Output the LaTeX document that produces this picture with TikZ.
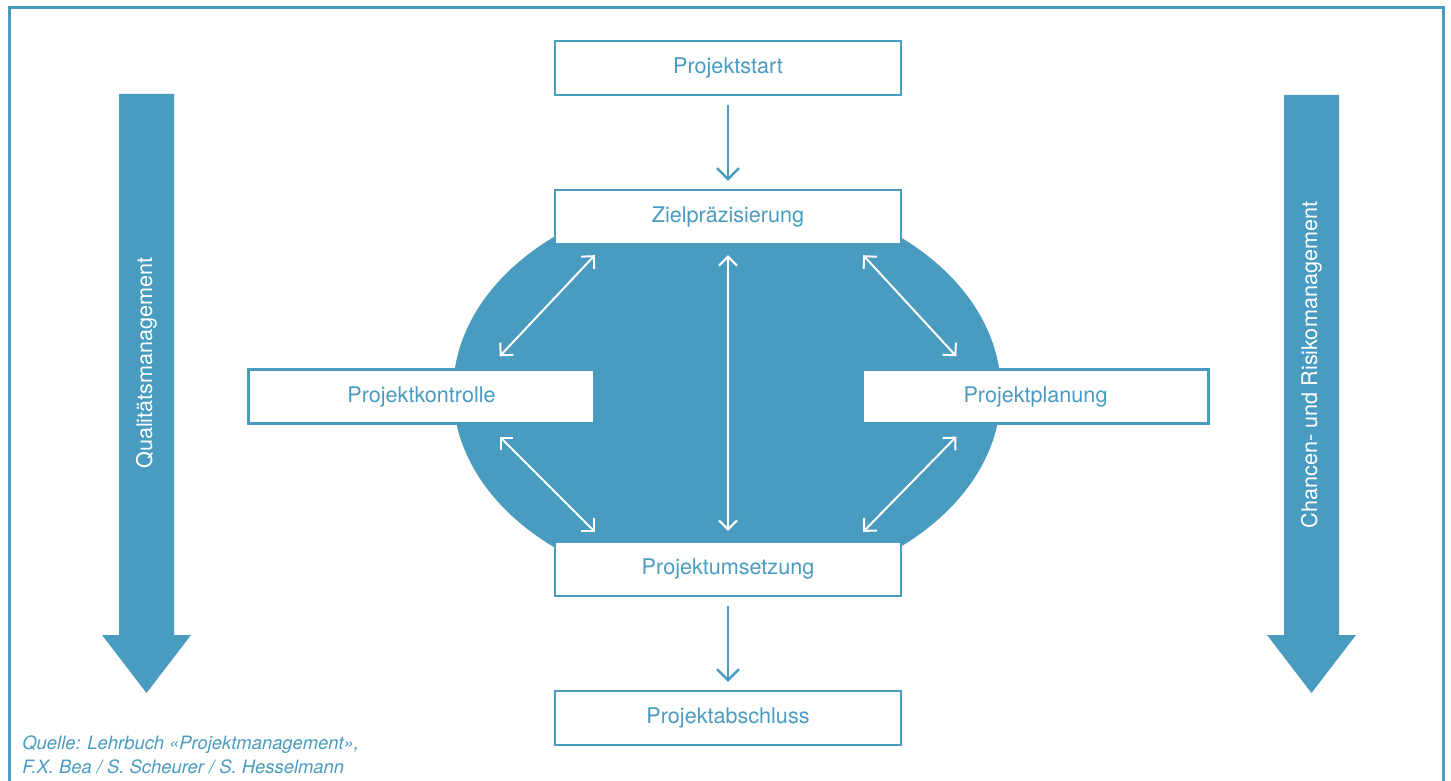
\documentclass[tikz,border=0pt]{standalone}
\usepackage{fontspec}
\setmainfont{TeX Gyre Heros}
\usepackage{tikz}
\usetikzlibrary{arrows.meta,positioning,shapes}
\definecolor{pmblue}{RGB}{74,155,192}
\tikzset{
     phase/.style = {draw=pmblue, line width=1.2pt, fill=white, text=pmblue,
                     minimum width=173pt, minimum height=27pt, inner sep=0pt,
                     font=\fontsize{10.8}{13}\selectfont},
      flow/.style = {pmblue, line width=1.2pt, -{Straight Barb[length=5.5pt,width=11pt]}},
      link/.style = {white, line width=1pt,
                     {Straight Barb[length=4.5pt,width=9pt]}-{Straight Barb[length=4.5pt,width=9pt]}},
      bigarrow/.style = {fill=pmblue},
      sidelabel/.style = {rotate=90, text=white, font=\fontsize{10.8}{13}\selectfont},
    }

\begin{document}
\begin{tikzpicture}[x=0.5pt, y=-0.5pt, node distance=74.5pt, on grid]
            \useasboundingbox (0,0) rectangle (1451,781);
            \draw[pmblue, line width=1.5pt] (9,781) -- (9,8) -- (1443,8) -- (1443,781);

            \node [ellipse, fill=pmblue, minimum width=274pt, minimum height=200pt, inner sep=0pt] (core) at (727,392) {};

            \node [phase] (start)     at (728,68)       {Projektstart};
            \node [phase] (ziel)      [below=of start]  {Zielpräzisierung};
            \node [phase] (umsetz)    [below=176pt of ziel] {Projektumsetzung};
            \node [phase] (abschluss) [below=of umsetz] {Projektabschluss};
            \node [phase] (kontrolle) at (421.5,396.5)  {Projektkontrolle};
            \node [phase] (planung)   at (1035.5,396.5) {Projektplanung};

            \draw [flow, shorten <=4.5pt, shorten >=4pt] (start) -- (ziel);
            \draw [flow, shorten <=4.5pt, shorten >=4pt] (umsetz) -- (abschluss);

            \draw [link] ([xshift=20.5pt,yshift=-5pt]ziel.south west) -- ([xshift=-48pt,yshift=6pt]kontrolle.north east);
            \draw [link] ([yshift=-5pt]ziel.south) -- ([yshift=5pt]umsetz.north);
            \draw [link] ([xshift=-19.5pt,yshift=-5pt]ziel.south east) -- ([xshift=47.5pt,yshift=6pt]planung.north west);
            \draw [link] ([xshift=-48pt,yshift=-6pt]kontrolle.south east) -- ([xshift=20.5pt,yshift=4.5pt]umsetz.north west);
            \draw [link] ([xshift=47.5pt,yshift=-6pt]planung.south west) -- ([xshift=-19.5pt,yshift=4.5pt]umsetz.north east);

            \fill [bigarrow] (119,94) -- (174,94) -- (174,635) -- (191,635) -- (146.5,693) -- (102,635) -- (119,635) -- cycle;
            \fill [bigarrow] (1284,95) -- (1339,95) -- (1339,635) -- (1356,635) -- (1311.5,693) -- (1267,635) -- (1284,635) -- cycle;
            \node [sidelabel] (quali)  at (146.5,363)  {Qualitätsmanagement};
            \node [sidelabel] (risiko) at (1311.5,365) {Chancen- und Risikomanagement};

            \node [anchor=north west, align=left, inner sep=0pt, text=pmblue,
                   font=\itshape\fontsize{9.2}{12}\selectfont] (quelle) at (22,735)
                  {Quelle: Lehrbuch «Projektmanagement»,\\F.X. Bea / S. Scheurer / S. Hesselmann};
\end{tikzpicture}
\end{document}
